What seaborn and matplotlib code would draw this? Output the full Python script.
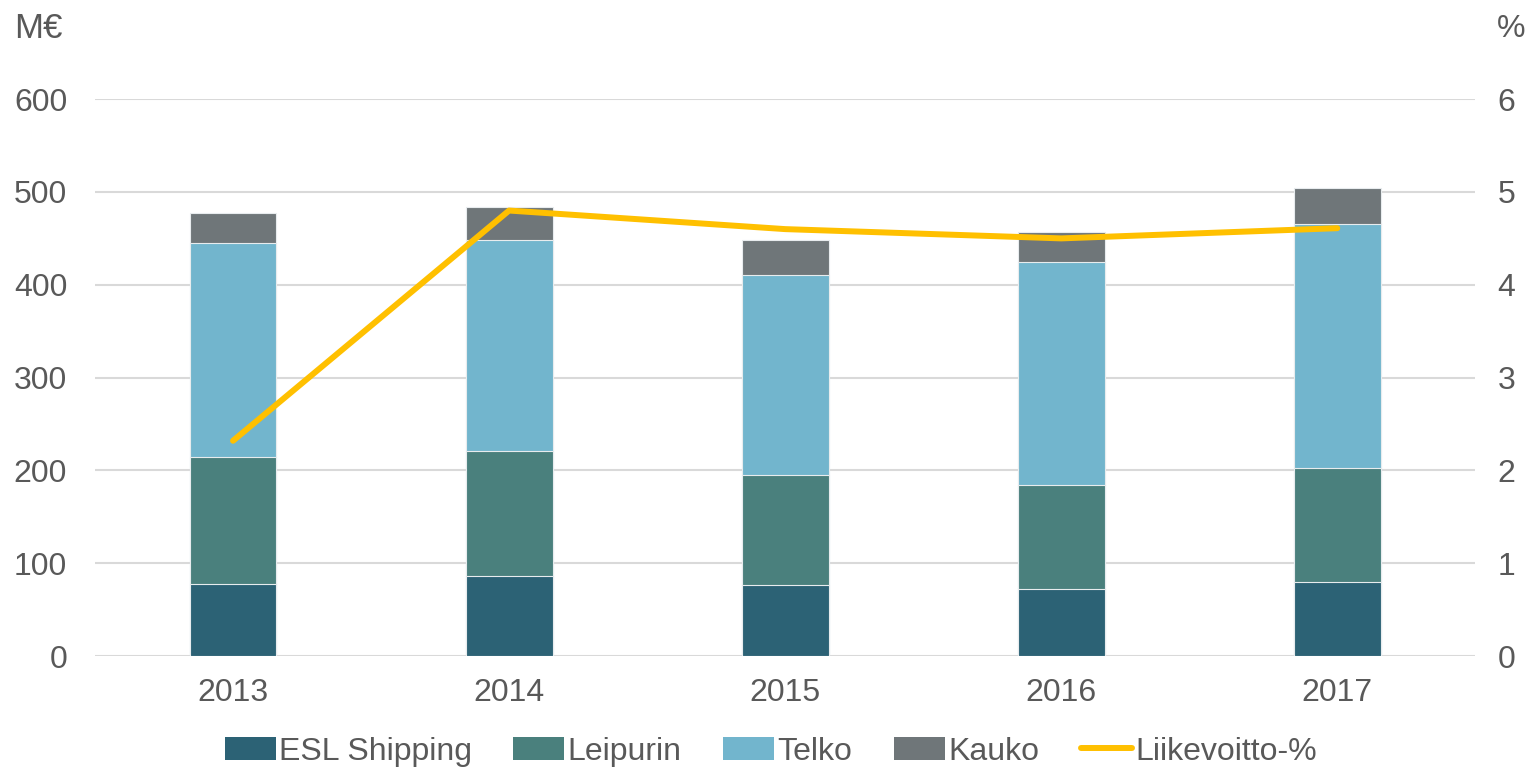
import numpy as np
import pandas as pd
import seaborn as sns
import matplotlib.pyplot as plt
from matplotlib.patches import Patch
from matplotlib.lines import Line2D

sns.set_theme(style='white')
plt.rcParams['font.family'] = ['Liberation Sans', 'DejaVu Sans']

years = ['2013', '2014', '2015', '2016', '2017']
esl = [78, 86, 77, 72, 80]
leipurin = [136, 135, 118, 112, 123]
telko = [231, 227, 216, 241, 262]
kauko = [32, 36, 37, 32, 39]
margin = [2.32, 4.8, 4.6, 4.5, 4.61]

segments = ['ESL Shipping', 'Leipurin', 'Telko', 'Kauko']
colors = ['#2C6275', '#4A807D', '#72B5CD', '#6F7679']
line_color = '#FFC000'
text_color = '#595959'
fs = 23

df = pd.DataFrame({'year': years, 'ESL Shipping': esl, 'Leipurin': leipurin,
                   'Telko': telko, 'Kauko': kauko})
cum = df[segments].cumsum(axis=1)

fig = plt.figure(figsize=(15.32, 7.71), dpi=100)
ax = fig.add_axes([0.062, 0.149, 0.901, 0.7224])

# draw cumulative totals from the top segment down so they stack
for seg, col in reversed(list(zip(segments, colors))):
    sns.barplot(x=df['year'], y=cum[seg], color=col, width=0.315,
                saturation=1, edgecolor='#E8ECEE', linewidth=0.8, ax=ax, zorder=2)

ax.set_ylim(0, 600)
ax.set_xlim(-0.5, 4.5)
ax.set_yticks(range(0, 601, 100))
ax.yaxis.grid(True, color='#D9D9D9', linewidth=1.5, zorder=0)
ax.set_axisbelow(True)
ax.set_xlabel('')
ax.set_ylabel('')
for s in ax.spines.values():
    s.set_visible(False)
ax.tick_params(axis='y', length=0, pad=20, labelsize=fs, labelcolor=text_color)
ax.tick_params(axis='x', length=0, pad=16, labelsize=fs, labelcolor=text_color)

ax2 = ax.twinx()
sns.lineplot(x=np.arange(len(years)), y=margin, color=line_color, linewidth=4.3,
             ax=ax2, solid_capstyle='round', zorder=3)
ax2.set_ylim(0, 6)
ax2.set_yticks(range(0, 7))
for s in ax2.spines.values():
    s.set_visible(False)
ax2.tick_params(axis='y', length=0, pad=16, labelsize=fs, labelcolor=text_color)
ax2.grid(False)

fig.text(0.009, 0.963, 'M€', fontsize=25, color=text_color, ha='left', va='center')
fig.text(0.977, 0.963, '%', fontsize=fs, color=text_color, ha='left', va='center')

handles = [Patch(facecolor=c, edgecolor='none') for c in colors]
handles.append(Line2D([0], [0], color=line_color, linewidth=4.3))
fig.legend(handles, segments + ['Liikevoitto-%'], loc='center', ncol=5,
           bbox_to_anchor=(0.503, 0.025), frameon=False, fontsize=fs,
           handlelength=1.6, handleheight=0.75, handletextpad=0.1,
           columnspacing=1.3, labelcolor=text_color)

fig.savefig('out.png', dpi=100)
